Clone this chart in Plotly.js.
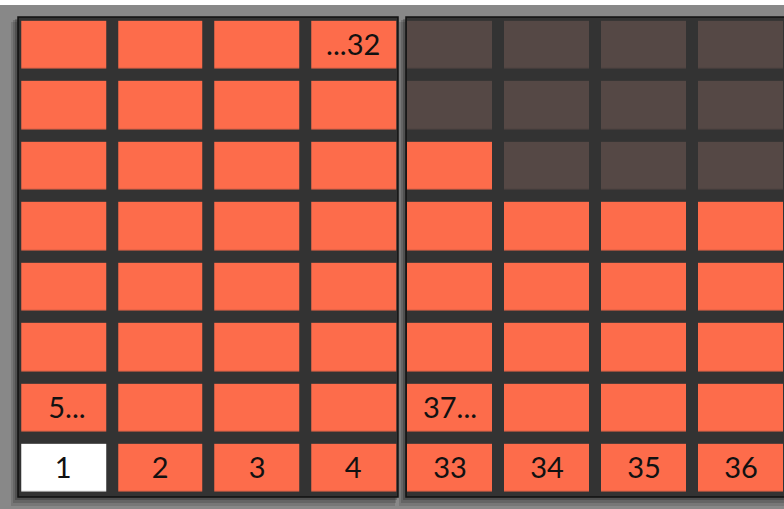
<!DOCTYPE html>
<html>
<head>
<meta charset="utf-8">
<script src="https://cdn.plot.ly/plotly-3.0.1.min.js"></script>
<style>html,body{margin:0;padding:0;background:#fff;}#chart{width:784px;height:509px;}</style>
</head>
<body>
<div id="chart"></div>
<script>
// Pad grid data (row 0 = bottom row). 0 = unlit, 1 = lit (orange), 2 = selected (white)
var columns = [0, 1, 2, 3];
var rows = [0, 1, 2, 3, 4, 5, 6, 7];
var leftStates = [
  [2, 1, 1, 1],
  [1, 1, 1, 1],
  [1, 1, 1, 1],
  [1, 1, 1, 1],
  [1, 1, 1, 1],
  [1, 1, 1, 1],
  [1, 1, 1, 1],
  [1, 1, 1, 1]
];
var rightStates = [
  [1, 1, 1, 1],
  [1, 1, 1, 1],
  [1, 1, 1, 1],
  [1, 1, 1, 1],
  [1, 1, 1, 1],
  [1, 0, 0, 0],
  [0, 0, 0, 0],
  [0, 0, 0, 0]
];
var leftLabels = [
  ["1", "2", "3", "4"],
  [" 5...", "", "", ""],
  ["", "", "", ""],
  ["", "", "", ""],
  ["", "", "", ""],
  ["", "", "", ""],
  ["", "", "", ""],
  ["", "", "", "...32"]
];
var rightLabels = [
  ["33", "34", "35", "36"],
  ["37...", "", "", ""],
  ["", "", "", ""],
  ["", "", "", ""],
  ["", "", "", ""],
  ["", "", "", ""],
  ["", "", "", ""],
  ["", "", "", ""]
];

var W = 784, H = 509;
function px(x) { return x / W; }
function py(y) { return 1 - y / H; }

var ORANGE = '#fd6c4b', DARK = '#554845', WHITE = '#ffffff';
var cscale = [[0, DARK], [0.25, DARK], [0.25, ORANGE], [0.75, ORANGE], [0.75, WHITE], [1, WHITE]];

function padTrace(z, labels, xa) {
  return {
    type: 'heatmap',
    x: columns, y: rows, z: z,
    text: labels, texttemplate: '%{text}',
    textfont: {family: 'Lato, sans-serif', size: 29, color: '#111111'},
    zmin: 0, zmax: 2, colorscale: cscale, showscale: false,
    xgap: 12, ygap: 12.4, hoverinfo: 'skip',
    xaxis: xa, yaxis: 'y'
  };
}

var data = [padTrace(leftStates, leftLabels, 'x'), padTrace(rightStates, rightLabels, 'x2')];

function rect(x0, y0, x1, y1, fill, line, lw, op) {
  return {type: 'rect', xref: 'paper', yref: 'paper', layer: 'below',
    x0: px(x0), x1: px(x1), y0: py(y1), y1: py(y0),
    fillcolor: fill, opacity: op === undefined ? 1 : op,
    line: {color: line || 'rgba(0,0,0,0)', width: lw || 0}};
}

var shapes = [
  rect(0, 5, 784, 509, '#888888'),
  // drop shadows
  rect(11, 22, 395, 506, '#000', null, 0, 0.12),
  rect(13, 20, 396, 503, '#000', null, 0, 0.15),
  rect(15, 19, 397, 500, '#000', null, 0, 0.2),
  rect(399, 22, 790, 506, '#000', null, 0, 0.12),
  rect(401, 20, 790, 503, '#000', null, 0, 0.15),
  rect(403, 19, 790, 500, '#000', null, 0, 0.2),
  // panels
  rect(18, 17, 398, 497, '#333333', '#111111', 1.5),
  rect(406, 17, 792, 497, '#333333', '#111111', 1.5)
];

var axisCommon = {showgrid: false, zeroline: false, showticklabels: false, ticks: '', showline: false, fixedrange: true};

var layout = {
  width: W, height: H,
  margin: {l: 0, r: 0, t: 0, b: 0, pad: 0},
  paper_bgcolor: '#ffffff', plot_bgcolor: 'rgba(0,0,0,0)',
  showlegend: false,
  xaxis: Object.assign({}, axisCommon, {domain: [px(15.2), px(402)], range: [-0.5, 3.5]}),
  xaxis2: Object.assign({}, axisCommon, {domain: [px(401), 1], range: [-0.5, 3.5 - 5 / 97], anchor: 'y'}),
  yaxis: Object.assign({}, axisCommon, {domain: [1 - 498.2 / H, 1 - 14.8 / H], range: [-0.5, 7.5]}),
  shapes: shapes
};

Plotly.newPlot('chart', data, layout, {displayModeBar: false, staticPlot: true});
</script>
</body>
</html>
